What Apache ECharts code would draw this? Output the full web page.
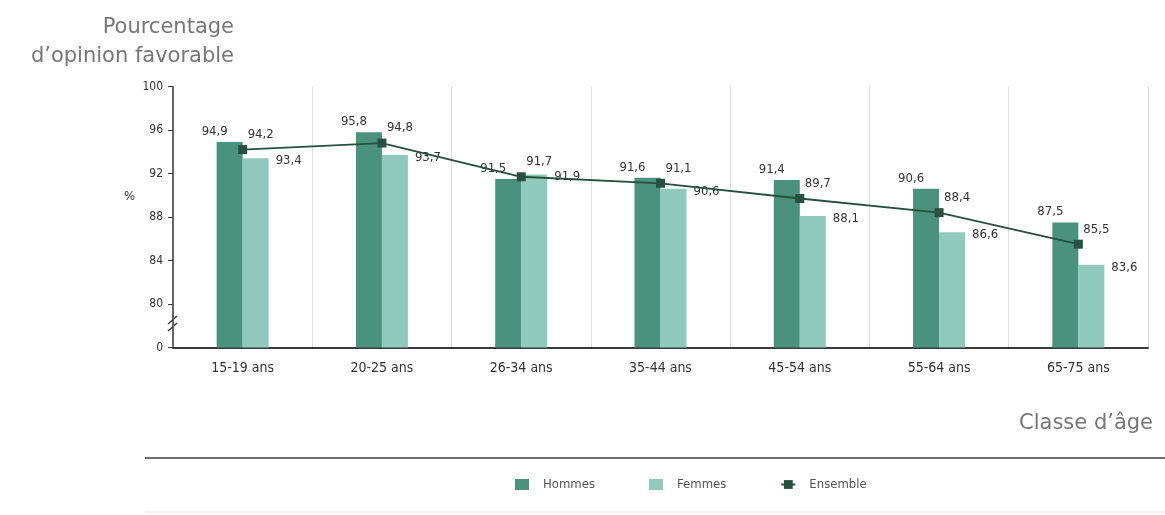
<!DOCTYPE html>
<html><head><meta charset="utf-8">
<script src="https://cdn.jsdelivr.net/npm/echarts@6/dist/echarts.min.js"></script>
<style>html,body{margin:0;padding:0;background:#fff}#c{width:1165px;height:515px}</style>
</head><body><div id="c"></div>
<script>
const categories = ['15-19 ans','20-25 ans','26-34 ans','35-44 ans','45-54 ans','55-64 ans','65-75 ans'];
const hommes = [94.9, 95.8, 91.5, 91.6, 91.4, 90.6, 87.5];
const femmes = [93.4, 93.7, 91.9, 90.6, 88.1, 86.6, 83.6];
const ensemble = [94.2, 94.8, 91.7, 91.1, 89.7, 88.4, 85.5];
const yTicks = ['0','80','84','88','92','96','100'];

const cHom = '#4a927d', cFem = '#8fcabc', cEns = '#27503f';
const narrow = "'DejaVu Sans Condensed','Liberation Sans Narrow',sans-serif";
const geo = "'DejaVu Sans', sans-serif";
const fmt = p => String(p.value).replace('.', ',');

const chart = echarts.init(document.getElementById('c'));
chart.setOption({
  animation: false,
  title: [
    { text: 'Pourcentage\nd\u2019opinion favorable', left: 229, top: 8, textAlign: 'right',
      textStyle: { fontFamily: geo, fontSize: 21, fontWeight: 'normal', color: '#777777', lineHeight: 29, align: 'right' } },
    { text: 'Classe d\u2019\u00e2ge', right: 7, top: 408,
      textStyle: { fontFamily: geo, fontSize: 21, fontWeight: 'normal', color: '#777777' } }
  ],
  grid: { left: 173, right: 17, top: 86.5, height: 261, containLabel: false },
  legend: {
    left: 510, top: 473, itemWidth: 14, itemHeight: 11, itemGap: 54,
    textStyle: { fontFamily: narrow, fontSize: 13, color: '#555', padding: [0, 0, 0, 9] },
    data: [
      { name: 'Hommes', icon: 'rect' },
      { name: 'Femmes', icon: 'rect' },
      { name: 'Ensemble' }
    ]
  },
  xAxis: {
    type: 'category', data: categories,
    axisLine: { lineStyle: { color: '#3a3a3a', width: 2 } },
    axisTick: { show: false },
    axisLabel: { fontFamily: narrow, fontSize: 14, color: '#333', margin: 14 },
    splitLine: { show: true, lineStyle: { color: '#dcdcdc', width: 1 } }
  },
  yAxis: {
    type: 'value', min: 76, max: 100, interval: 4,
    name: '%', nameLocation: 'middle', nameRotate: 0, nameGap: 38,
    nameTextStyle: { fontFamily: narrow, fontSize: 13, color: '#333', verticalAlign: 'bottom', padding: [0, 0, 14, 0] },
    axisLine: { show: true, lineStyle: { color: '#3a3a3a', width: 1.5 } },
    axisTick: { show: true, inside: false, length: 5, lineStyle: { color: '#3a3a3a' } },
    axisLabel: { fontFamily: narrow, fontSize: 12, color: '#333', margin: 10,
      formatter: v => yTicks[Math.round((v - 76) / 4)] },
    splitLine: { show: false }
  },
  series: [
    { name: 'Hommes', type: 'bar', data: hommes, barWidth: 26, barGap: '0%',
      itemStyle: { color: cHom },
      label: { show: true, position: 'top', offset: [-15, 1], formatter: fmt,
        fontFamily: narrow, fontSize: 13, color: '#333' } },
    { name: 'Femmes', type: 'bar', data: femmes, barWidth: 26,
      itemStyle: { color: cFem },
      label: { show: true, position: [33, -4], formatter: fmt,
        fontFamily: narrow, fontSize: 13, color: '#333' } },
    { name: 'Ensemble', type: 'line', data: ensemble, z: 5,
      symbol: 'rect', symbolSize: 9,
      lineStyle: { color: cEns, width: 1.8 }, itemStyle: { color: cEns },
      label: { show: true, position: 'top', offset: [18, 1], formatter: fmt,
        fontFamily: narrow, fontSize: 13, color: '#333' } }
  ],
  graphic: [
    { type: 'line', shape: { x1: 145, y1: 458, x2: 1165, y2: 458 }, style: { stroke: '#6f6f6f', lineWidth: 2 } },
    { type: 'line', shape: { x1: 145, y1: 512, x2: 1165, y2: 512 }, style: { stroke: '#e6e6e6', lineWidth: 1 } },
    { type: 'rect', shape: { x: 168, y: 318, width: 10, height: 16 }, style: { fill: '#fff' } },
    { type: 'line', shape: { x1: 168, y1: 324, x2: 177, y2: 316 }, style: { stroke: '#3a3a3a', lineWidth: 1.5 } },
    { type: 'line', shape: { x1: 168, y1: 331, x2: 177, y2: 323 }, style: { stroke: '#3a3a3a', lineWidth: 1.5 } }
  ]
});
</script></body></html>
